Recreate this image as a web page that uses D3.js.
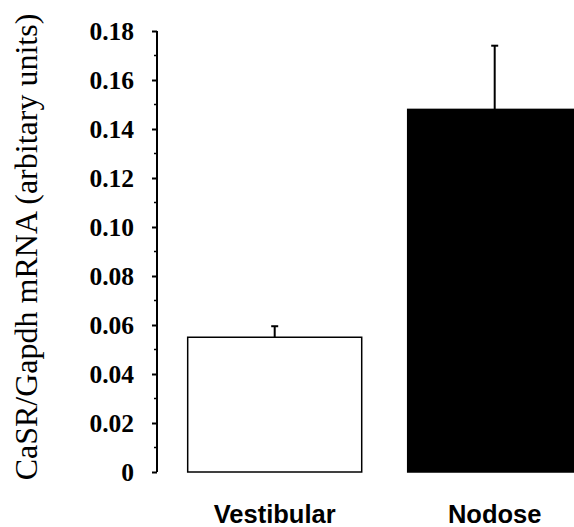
<!DOCTYPE html>
<html>
<head>
<meta charset="utf-8">
<script src="https://cdn.jsdelivr.net/npm/d3@7/dist/d3.min.js"></script>
<style>
  html, body { margin: 0; padding: 0; background: #fff; }
  svg { display: block; }
</style>
</head>
<body>
<svg id="chart" width="574" height="527"></svg>
<script>
// CaSR expression, vestibular vs nodose ganglia.
const categories = ["Vestibular", "Nodose"];
const means = [0.055, 0.148];
const errors = [0.0045, 0.026];
const fills = ["#ffffff", "#000000"];
const yTicks = [0, 0.02, 0.04, 0.06, 0.08, 0.10, 0.12, 0.14, 0.16, 0.18];
const yMinor = [0.01, 0.03, 0.05, 0.07, 0.09, 0.11, 0.13, 0.15, 0.17];
const yTitle = "CaSR/Gapdh mRNA (arbitary units)";

const svg = d3.select("#chart");
const axisX = 157;

const y = d3.scaleLinear().domain([0, 0.18]).range([472, 31]);
const x = d3.scaleBand()
  .domain(categories)
  .range([axisX, 612.4])
  .paddingInner(0.209)
  .paddingOuter(0.1395)
  .align(0.5);

// Bars.
const data = categories.map((c, i) => ({ c, v: means[i], e: errors[i], fill: fills[i] }));

svg.append("g")
  .selectAll("rect")
  .data(data)
  .join("rect")
  .attr("x", (d) => x(d.c))
  .attr("y", (d) => y(d.v))
  .attr("width", x.bandwidth())
  .attr("height", (d) => y(0) - y(d.v))
  .attr("fill", (d) => d.fill)
  .attr("stroke", "#000")
  .attr("stroke-width", 1.5);

// Error bars (upper only).
const eb = svg.append("g").attr("stroke", "#000").attr("stroke-width", 2);
eb.selectAll("line.stem")
  .data(data)
  .join("line")
  .attr("class", "stem")
  .attr("x1", (d) => x(d.c) + x.bandwidth() / 2)
  .attr("x2", (d) => x(d.c) + x.bandwidth() / 2)
  .attr("y1", (d) => y(d.v))
  .attr("y2", (d) => y(d.v + d.e));
eb.selectAll("line.cap")
  .data(data)
  .join("line")
  .attr("class", "cap")
  .attr("x1", (d) => x(d.c) + x.bandwidth() / 2 - 3.5)
  .attr("x2", (d) => x(d.c) + x.bandwidth() / 2 + 3.5)
  .attr("y1", (d) => y(d.v + d.e))
  .attr("y2", (d) => y(d.v + d.e));

// Y axis.
const yAxis = d3.axisLeft(y)
  .tickValues(yTicks)
  .tickSize(5)
  .tickPadding(18)
  .tickFormat((d) => d === 0 ? "0" : d3.format(".2f")(d));

const gy = svg.append("g")
  .attr("transform", `translate(${axisX},0)`)
  .call(yAxis);
gy.select(".domain").attr("stroke", "#000").attr("stroke-width", 2)
  .attr("d", `M0,${y(0.18)}V${y(0)}`);
gy.selectAll(".tick line").attr("stroke", "#000").attr("stroke-width", 2);
gy.selectAll(".tick text")
  .attr("fill", "#000")
  .attr("font-family", "'Liberation Serif', 'Times New Roman', serif")
  .attr("font-weight", "bold")
  .attr("font-size", 25.5)
  .attr("dy", "0.35em");

svg.append("g")
  .attr("stroke", "#000")
  .attr("stroke-width", 1.5)
  .selectAll("line")
  .data(yMinor)
  .join("line")
  .attr("x1", axisX - 3)
  .attr("x2", axisX)
  .attr("y1", (d) => y(d))
  .attr("y2", (d) => y(d));

// Category labels.
svg.append("g")
  .selectAll("text")
  .data(categories)
  .join("text")
  .attr("x", (d) => x(d) + x.bandwidth() / 2)
  .attr("y", 523)
  .attr("text-anchor", "middle")
  .attr("font-family", "'Liberation Sans', Arial, sans-serif")
  .attr("font-weight", "bold")
  .attr("font-size", 25.5)
  .attr("fill", "#000")
  .text((d) => d);

// Y title.
svg.append("text")
  .attr("transform", "translate(37,247) rotate(-90)")
  .attr("text-anchor", "middle")
  .attr("font-family", "'Liberation Serif', 'Times New Roman', serif")
  .attr("font-size", 32)
  .attr("fill", "#000")
  .text(yTitle);
</script>
</body>
</html>
